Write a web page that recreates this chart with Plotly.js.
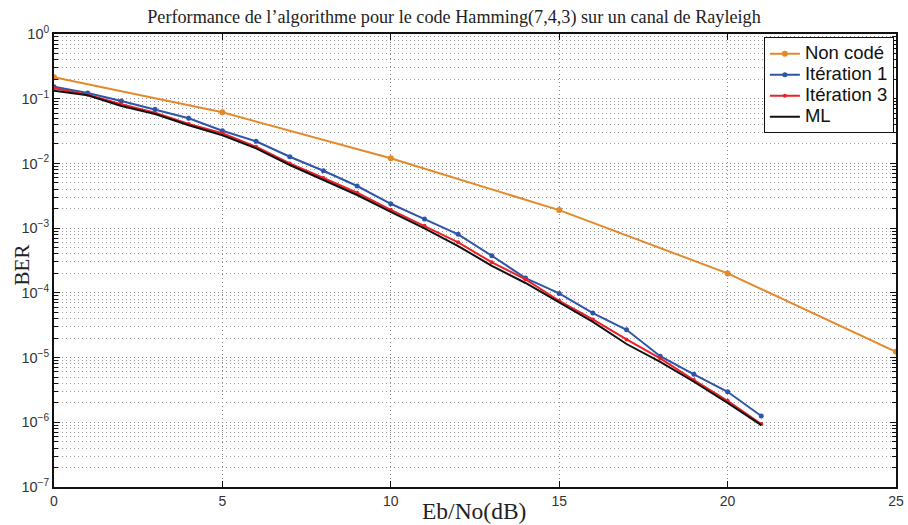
<!DOCTYPE html>
<html>
<head>
<meta charset="utf-8">
<script src="https://cdn.plot.ly/plotly-3.0.1.min.js"></script>
<style>html,body{margin:0;padding:0;background:#fff;}#chart{width:908px;height:525px;}</style>
</head>
<body>
<div id="chart"></div>
<script>
// Data
const snrUncoded = [0, 5, 10, 15, 20, 25];
const berUncoded = [0.214, 0.0616, 0.0120, 0.0019, 2.0e-4, 1.23e-5];

const snrCoded = [0,1,2,3,4,5,6,7,8,9,10,11,12,13,14,15,16,17,18,19,20,21];
const berIter1 = [0.153,0.1226,0.092,0.0685,0.0498,0.032,0.022,0.0127,0.0077,0.00448,0.00238,0.00138,8.02e-4,3.74e-4,1.69e-4,9.8e-5,4.87e-5,2.69e-5,1.05e-5,5.5e-6,2.96e-6,1.25e-6];
const berIter3 = [0.145,0.115,0.0819,0.0608,0.0407,0.0292,0.0181,0.0100,0.00595,0.00352,0.00192,0.00109,6.04e-4,2.96e-4,1.62e-4,7.55e-5,3.89e-5,1.91e-5,9.7e-6,4.49e-6,2.15e-6,9.4e-7];
const berML    = [0.133,0.113,0.077,0.058,0.039,0.0272,0.0171,0.00945,0.00554,0.00325,0.00179,9.93e-4,5.29e-4,2.62e-4,1.42e-4,7.1e-5,3.57e-5,1.62e-5,8.6e-6,4.23e-6,2.0e-6,9.05e-7];

const seriesNames = ['Non codé', 'Itération 1', 'Itération 3', 'ML'];

const xTickVals = [0, 5, 10, 15, 20, 25];
const xTickText = ['0', '5', '10', '15', '20', '25'];
const yTickVals = [1, 1e-1, 1e-2, 1e-3, 1e-4, 1e-5, 1e-6, 1e-7];
const yTickText = ['10<sup>0</sup>', '10<sup>−1</sup>', '10<sup>−2</sup>', '10<sup>−3</sup>', '10<sup>−4</sup>', '10<sup>−5</sup>', '10<sup>−6</sup>', '10<sup>−7</sup>'];

const titleText = 'Performance de l’algorithme pour le code Hamming(7,4,3) sur un canal de Rayleigh';
const xTitle = 'Eb/No(dB)';
const yTitle = 'BER';

const big = s => '<span style="font-size:18.5px">' + s + '</span>';

const traces = [
  {x: snrUncoded, y: berUncoded, name: big(seriesNames[0]), mode: 'lines+markers',
   line: {color: '#E3892B', width: 2}, marker: {color: '#E3892B', size: 6, symbol: 'circle'}},
  {x: snrCoded, y: berIter1, name: big(seriesNames[1]), mode: 'lines+markers',
   line: {color: '#2F55A9', width: 2}, marker: {color: '#2F55A9', size: 5, symbol: 'circle'}},
  {x: snrCoded, y: berIter3, name: big(seriesNames[2]), mode: 'lines+markers',
   line: {color: '#EC2027', width: 2}, marker: {color: '#EC2027', size: 4, symbol: 'circle'}},
  {x: snrCoded, y: berML, name: big(seriesNames[3]), mode: 'lines',
   line: {color: '#111111', width: 2}}
];

const gridDash = '1px,3px';
const serif = 'Liberation Serif, Times New Roman, serif';
const layout = {
  width: 908, height: 525,
  margin: {l: 54, r: 12, t: 34, b: 38},
  paper_bgcolor: '#fff', plot_bgcolor: '#fff',
  font: {family: 'Liberation Sans, Arial, sans-serif', color: '#333'},
  title: {text: titleText, font: {family: serif, size: 18.2, color: '#222'},
          x: 0.5, xanchor: 'center', y: 0.968, yanchor: 'middle'},
  xaxis: {
    range: [0, 25], tickmode: 'array', tickvals: xTickVals, ticktext: xTickText,
    ticks: 'inside', ticklen: 6, tickcolor: '#111', tickwidth: 1,
    showline: true, linecolor: '#111', linewidth: 2, mirror: 'ticks',
    showgrid: true, gridcolor: '#888', gridwidth: 1, griddash: gridDash,
    zeroline: false, tickfont: {size: 14, color: '#333'}
  },
  yaxis: {
    type: 'log', range: [-7, 0], tickmode: 'array', tickvals: yTickVals, ticktext: yTickText,
    ticks: 'inside', ticklen: 6, tickcolor: '#111', tickwidth: 1,
    showline: true, linecolor: '#111', linewidth: 2, mirror: 'ticks',
    showgrid: true, gridcolor: '#888', gridwidth: 1, griddash: gridDash,
    zeroline: false, tickfont: {size: 14.5, color: '#333'},
    minor: {dtick: 'D1', ticks: 'inside', ticklen: 4, tickcolor: '#111',
            showgrid: true, gridcolor: '#999', gridwidth: 1, griddash: gridDash}
  },
  annotations: [
    {text: xTitle, xref: 'paper', yref: 'paper', x: 0.4985, y: -0.053,
     xanchor: 'center', yanchor: 'middle', showarrow: false,
     font: {family: serif, size: 23.5, color: '#222'}},
    {text: yTitle, xref: 'paper', yref: 'paper', x: -0.0375, y: 0.49,
     xanchor: 'center', yanchor: 'middle', showarrow: false, textangle: -90,
     font: {family: serif, size: 21, color: '#222'}}
  ],
  legend: {
    x: 0.9975, xanchor: 'right', y: 0.9925, yanchor: 'top',
    bgcolor: '#fff', bordercolor: '#111', borderwidth: 1,
    font: {family: 'Liberation Sans, Arial, sans-serif', size: 13.8, color: '#111'},
    itemwidth: 30, tracegroupgap: 0
  },
  showlegend: true
};

Plotly.newPlot('chart', traces, layout, {displayModeBar: false, staticPlot: true});
</script>
</body>
</html>
